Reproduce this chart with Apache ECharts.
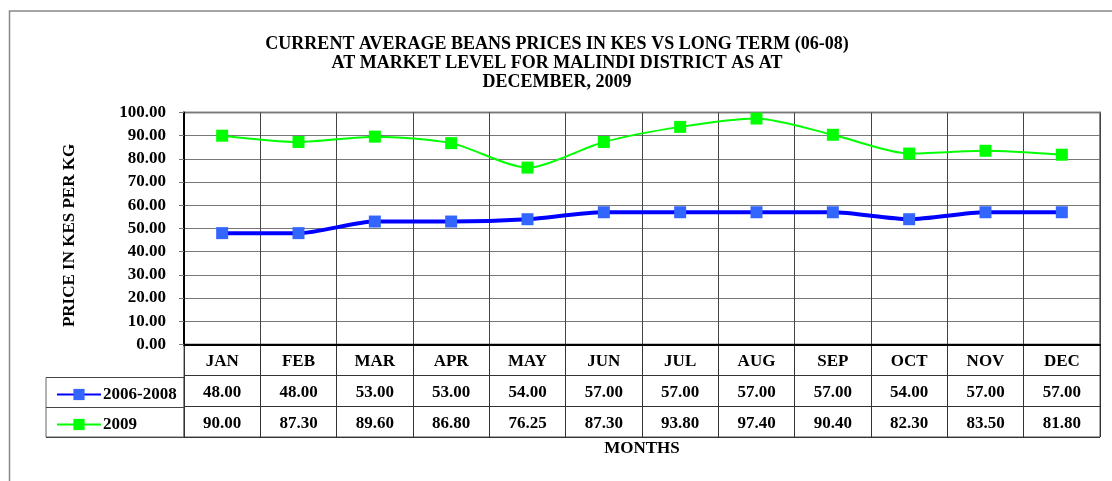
<!DOCTYPE html>
<html><head><meta charset="utf-8">
<script src="https://cdn.jsdelivr.net/npm/echarts@6/dist/echarts.min.js"></script>
<style>html,body{margin:0;padding:0;background:#fff}#c{width:1112px;height:481px}</style>
</head><body><div id="c"></div>
<script>
var months = ['JAN','FEB','MAR','APR','MAY','JUN','JUL','AUG','SEP','OCT','NOV','DEC'];
var longTerm = [48.00,48.00,53.00,53.00,54.00,57.00,57.00,57.00,57.00,54.00,57.00,57.00];
var cur2009 = [90.00,87.30,89.60,86.80,76.25,87.30,93.80,97.40,90.40,82.30,83.50,81.80];
var seriesNames = ['2006-2008','2009'];
var titleLines = ['CURRENT AVERAGE BEANS PRICES IN KES VS LONG TERM (06-08)','AT MARKET LEVEL FOR MALINDI DISTRICT AS AT','DECEMBER, 2009'];

var FONT = '"Liberation Serif","Times New Roman",serif';
var FS = 17;
var tableData = [];
months.forEach(function(m,i){
  tableData.push([i,0.5,m]);
  tableData.push([i,1.5,longTerm[i].toFixed(2)]);
  tableData.push([i,2.5,cur2009[i].toFixed(2)]);
});

var chart = echarts.init(document.getElementById('c'));
chart.setOption({
  animation:false,
  backgroundColor:'#fff',
  title:{text:titleLines.join('\n'), left:552, textAlign:'center', top:30,
    textStyle:{fontFamily:FONT,fontWeight:'bold',fontSize:18,lineHeight:19,color:'#000'}},
  legend:{orient:'vertical', left:51, top:381, itemWidth:44, itemHeight:14, itemGap:13,
    data:seriesNames, textStyle:{fontFamily:FONT,fontWeight:'bold',fontSize:FS,color:'#000',lineHeight:14,padding:[0,0,0,-3]}},
  graphic:[{type:'rect', left:7, top:8.5, shape:{width:1300,height:600}, style:{fill:'none',stroke:'#888',lineWidth:1.5}, silent:true}],
  grid:[
    {left:184, right:12, top:112.5, bottom:136.5, show:true, borderColor:'#888', borderWidth:2},
    {left:184, right:12, top:344.5, height:92.5, show:true, borderColor:'#555', borderWidth:1},
    {left:46, width:138, top:377.5, height:59.5, show:true, borderColor:'#666', borderWidth:1}
  ],
  xAxis:[
    {type:'category', gridIndex:0, data:months, boundaryGap:true,
      axisLine:{lineStyle:{color:'#000',width:2}}, axisTick:{show:false}, axisLabel:{show:false},
      splitLine:{show:true,lineStyle:{color:'#444',width:1}}},
    {type:'category', gridIndex:1, data:months, boundaryGap:true,
      axisLine:{show:false}, axisTick:{show:false}, axisLabel:{show:false},
      splitLine:{show:true,lineStyle:{color:'#333',width:1}},
      name:'MONTHS', nameLocation:'middle', nameGap:3,
      nameTextStyle:{fontFamily:FONT,fontWeight:'bold',fontSize:FS,color:'#000'}},
    {type:'value', gridIndex:2, show:false}
  ],
  yAxis:[
    {type:'value', gridIndex:0, min:0, max:100, interval:10,
      axisLine:{show:true,lineStyle:{color:'#000',width:2}},
      axisTick:{show:true,length:5,lineStyle:{color:'#777'}},
      axisLabel:{margin:18, formatter:function(v){return v.toFixed(2);},
        fontFamily:FONT,fontWeight:'bold',fontSize:FS,color:'#000'},
      splitLine:{show:true,lineStyle:{color:'#777',width:1}},
      name:'PRICE IN KES PER KG', nameLocation:'middle', nameRotate:90, nameGap:106,
      nameTextStyle:{fontFamily:FONT,fontWeight:'bold',fontSize:FS,color:'#000',padding:[0,14,0,0]}},
    {type:'value', gridIndex:1, min:0, max:3, interval:1, inverse:true,
      axisLine:{show:false}, axisTick:{show:false}, axisLabel:{show:false},
      splitLine:{show:true,lineStyle:{color:'#333',width:1}}},
    {type:'value', gridIndex:2, min:0, max:2, interval:1,
      axisLine:{show:false}, axisTick:{show:false}, axisLabel:{show:false},
      splitLine:{show:true,lineStyle:{color:'#444',width:1}}}
  ],
  series:[
    {name:seriesNames[0], type:'line', xAxisIndex:0, yAxisIndex:0, data:longTerm, smooth:0.25,
      symbol:'rect', symbolSize:12, lineStyle:{color:'#0000FF',width:4}, itemStyle:{color:'#3366FF'}, z:3},
    {name:seriesNames[1], type:'line', xAxisIndex:0, yAxisIndex:0, data:cur2009, smooth:0.25,
      symbol:'rect', symbolSize:12, lineStyle:{color:'#00FF00',width:2}, itemStyle:{color:'#00FF00'}, z:4},
    {type:'custom', xAxisIndex:1, yAxisIndex:1, data:tableData, silent:true,
      renderItem:function(params, api){
        var p = api.coord([api.value(0), api.value(1)]);
        return {type:'text', x:p[0], y:p[1]+2, style:{text:tableData[params.dataIndex][2], align:'center', verticalAlign:'middle',
          font:'bold '+FS+'px '+FONT, fill:'#000'}};
      }}
  ]
});
</script></body></html>
